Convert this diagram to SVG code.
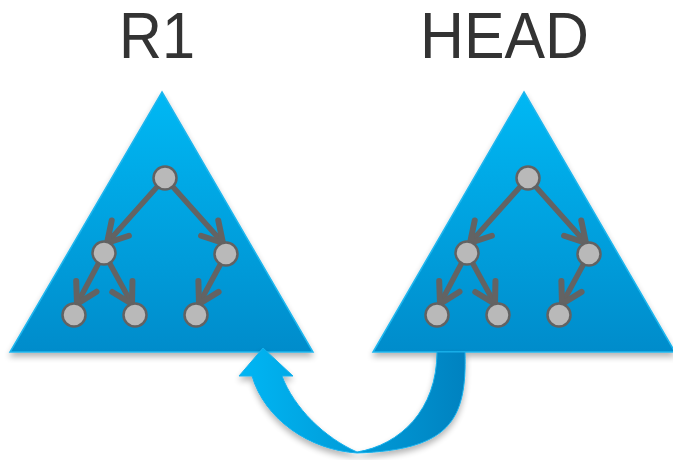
<svg xmlns="http://www.w3.org/2000/svg" width="673" height="460" viewBox="0 0 673 460">
  <defs>
    <linearGradient id="triFill" x1="0" y1="0" x2="0" y2="1">
      <stop offset="0" stop-color="#00b8f4"/>
      <stop offset="1" stop-color="#058ccb"/>
    </linearGradient>
    <linearGradient id="loopFill" x1="0" y1="0" x2="1" y2="0">
      <stop offset="0" stop-color="#00b6f4"/>
      <stop offset="0.45" stop-color="#029fdc"/>
      <stop offset="1" stop-color="#0482c0"/>
    </linearGradient>
    <filter id="shadow" x="-10%" y="-10%" width="120%" height="125%">
      <feGaussianBlur in="SourceAlpha" stdDeviation="3"/>
      <feOffset dx="0" dy="4" result="b"/>
      <feComponentTransfer><feFuncA type="linear" slope="0.3"/></feComponentTransfer>
      <feMerge><feMergeNode/><feMergeNode in="SourceGraphic"/></feMerge>
    </filter>
    <marker id="chevron" markerUnits="userSpaceOnUse" markerWidth="40" markerHeight="40" viewBox="-28 -20 40 40" refX="0" refY="0" orient="auto">
      <path d="M -20 -11.5 L 0 0 L -20 11.5" fill="none" stroke="#636363" stroke-width="6" stroke-linecap="round" stroke-linejoin="round"/>
    </marker>
    <g id="tree">
      <g class="edges">
        <line x1="165" y1="178" x2="107" y2="243"/>
        <line x1="165" y1="178" x2="223" y2="243"/>
        <line x1="104" y1="253" x2="77" y2="304"/>
        <line x1="104" y1="253" x2="132" y2="304"/>
        <line x1="226" y1="254" x2="199" y2="304"/>
      </g>
      <circle cx="165" cy="178" r="11.5"/>
      <circle cx="104" cy="253" r="11.5"/>
      <circle cx="226" cy="254" r="11.5"/>
      <circle cx="74" cy="315" r="11.5"/>
      <circle cx="135" cy="315" r="11.5"/>
      <circle cx="196" cy="315" r="11.5"/>
    </g>
  </defs>
  <style>
    .label { font-family: "Liberation Sans", Arial, sans-serif; font-size: 64px; fill: #333333; }
    .tri { fill: url(#triFill); stroke: #1fb6ee; stroke-width: 1.5; stroke-linejoin: miter; }
    .edges line { stroke: #636363; stroke-width: 5.5; stroke-linecap: round; marker-end: url(#chevron); }
    circle { fill: #b9b9b9; stroke: #626262; stroke-width: 2.5; }
  </style>

  <!-- snapshot R1 -->
  <g id="r1">
    <text class="label" x="119" y="58" textLength="76" lengthAdjust="spacingAndGlyphs">R1</text>
    <polygon class="tri" points="162,92 313,352 10,352" filter="url(#shadow)"/>
    <use href="#tree"/>
  </g>

  <!-- snapshot HEAD -->
  <g id="head">
    <text class="label" x="420" y="58" textLength="169" lengthAdjust="spacingAndGlyphs">HEAD</text>
    <polygon class="tri" points="524,92 675,352 373,352" filter="url(#shadow)"/>
    <use href="#tree" transform="translate(363 0)"/>
  </g>

  <!-- connector: HEAD back to R1 -->
  <g id="connectors">
    <path d="M 437 352 L 465 352 C 467 420 450 450 357 453 C 310 450 265 420 252 376 L 239 376 L 263 348 L 293 376 L 282 376 C 294 408 325 438 357 452 C 400 445 437 410 437 352 Z"
          fill="url(#loopFill)" stroke="#15b0ec" stroke-width="1" filter="url(#shadow)"/>
  </g>
</svg>
